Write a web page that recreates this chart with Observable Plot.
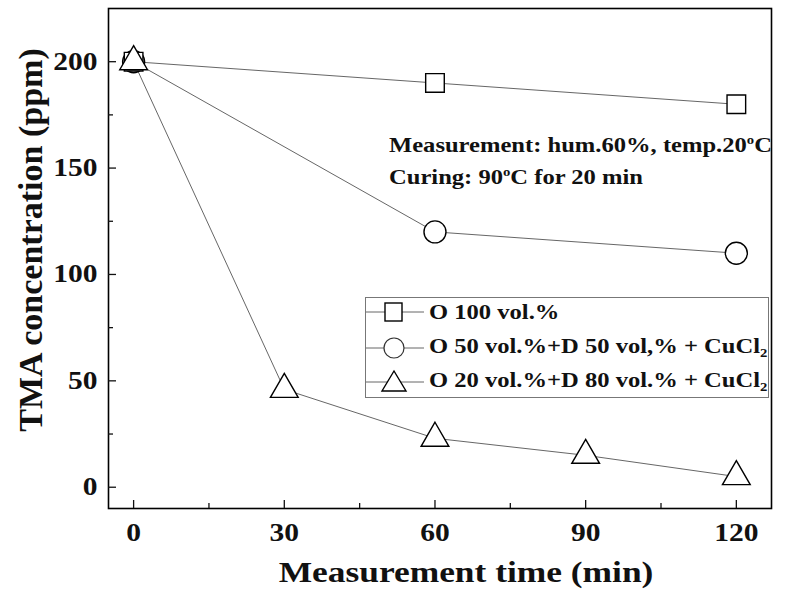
<!DOCTYPE html>
<html>
<head>
<meta charset="utf-8">
<script src="https://cdn.jsdelivr.net/npm/d3@7"></script>
<script src="https://cdn.jsdelivr.net/npm/@observablehq/plot@0.6"></script>
<style>
  html, body { margin: 0; padding: 0; background: #fff; }
  #wrap { position: relative; width: 789px; height: 596px; font-family: "Liberation Serif", "Times New Roman", serif; font-weight: bold; color: #111; }
  #wrap svg { display: block; }
  .note { position: absolute; font-size: 21px; line-height: 1; white-space: nowrap; transform: scaleX(1.17); transform-origin: 0 0; }
  .ylab { position: absolute; left: 31px; top: 240px; font-size: 34px; line-height: 1; white-space: nowrap; transform: translate(-50%, -50%) rotate(-90deg); }
  .legend { position: absolute; left: 365px; top: 297px; width: 404px; height: 101px; border: 1px solid #777; box-sizing: border-box; background: #fff; }
  .row { position: absolute; left: 0; height: 30px; display: flex; align-items: center; white-space: nowrap; }
  .row span { display: inline-block; font-size: 21px; transform: scaleX(1.17); transform-origin: 0 50%; }
  sub { font-size: 0.6em; vertical-align: -0.35em; }
  sup { font-size: 0.6em; vertical-align: 0.6em; line-height: 0; }
</style>
</head>
<body>
<div id="wrap"></div>
<script>
// ---- data ----
const seriesNames = ["O 100 vol.%", "O 50 vol.%+D 50 vol,% + CuCl2", "O 20 vol.%+D 80 vol.% + CuCl2"];
const o100Time = [0, 60, 120];
const o100Conc = [200, 190, 180];
const o50Time = [0, 60, 120];
const o50Conc = [200, 120, 110];
const o20Time = [0, 30, 60, 90, 120];
const o20Conc = [200, 46, 23, 15, 5];
const xTicks = [0, 30, 60, 90, 120];
const xMinor = [15, 45, 75, 105];
const yTicks = [0, 50, 100, 150, 200];
const yMinor = [25, 75, 125, 175];
const xLabel = "Measurement time (min)";
const yLabel = "TMA concentration (ppm)";
const noteLines = ["Measurement: hum.60%, temp.20<sup>o</sup>C", "Curing: 90<sup>o</sup>C for 20 min"];

const toRows = (t, c) => t.map((x, i) => ({time: x, conc: c[i]}));
const s100 = toRows(o100Time, o100Conc);
const s50 = toRows(o50Time, o50Conc);
const s20 = toRows(o20Time, o20Conc);

const lineStyle = {x: "time", y: "conc", stroke: "#555", strokeWidth: 0.9};
const dotStyle = {x: "time", y: "conc", fill: "white", stroke: "black", strokeWidth: 1.4};

const chart = Plot.plot({
  width: 789,
  height: 596,
  marginLeft: 108,
  marginRight: 18,
  marginTop: 8,
  marginBottom: 88,
  style: {fontFamily: "'Liberation Serif', 'Times New Roman', serif", fontWeight: "bold", background: "white", color: "#111"},
  x: {domain: [-5, 127]},
  y: {domain: [-10, 225]},
  marks: [
    Plot.frame({stroke: "black", strokeWidth: 1.6}),
    // inward ticks
    Plot.axisX(xTicks, {tickSize: -8, text: null, label: null, strokeWidth: 1.3}),
    Plot.axisX(xMinor, {tickSize: -5, text: null, label: null, strokeWidth: 1.3}),
    Plot.axisY(yTicks, {tickSize: -8, text: null, label: null, strokeWidth: 1.3}),
    Plot.axisY(yMinor, {tickSize: -5, text: null, label: null, strokeWidth: 1.3}),
    // tick labels
    Plot.axisX(xTicks, {tickSize: 0, tickPadding: 15, fontSize: 25, label: null}),
    Plot.axisY(yTicks, {tickSize: 0, tickPadding: 11, fontSize: 25, label: null}),
    // x axis title
    Plot.axisX({ticks: [], tickSize: 0, label: xLabel, labelAnchor: "center", labelArrow: "none", labelOffset: 73, fontSize: 30}),
    // series
    Plot.line(s100, lineStyle),
    Plot.line(s50, lineStyle),
    Plot.line(s20, lineStyle),
    Plot.dot(s50, {...dotStyle, symbol: "circle", r: 11}),
    Plot.dot(s100, {...dotStyle, symbol: "square", r: 10.5}),
    Plot.dot(s20, {...dotStyle, symbol: "triangle", r: 10.3})
  ]
});

// horizontal stretch of axis texts (the reference typeface is wide)
chart.querySelectorAll('g[aria-label$="tick label"] text, g[aria-label="x-axis label"] text').forEach(t => {
  const x = +t.getAttribute("x") || 0, y = +t.getAttribute("y") || 0;
  const tr = t.getAttribute("transform") || "";
  t.setAttribute("transform", `${tr} translate(${x},${y}) scale(1.18,1) translate(${-x},${-y})`);
});
// the reference x title sits a little right of the frame centre
chart.querySelectorAll('g[aria-label="x-axis label"] text').forEach(t => {
  const tr = t.getAttribute("transform") || "";
  t.setAttribute("transform", `translate(26,0) ${tr}`);
});

const wrap = document.getElementById("wrap");
wrap.appendChild(chart);

// y axis title
const ylab = document.createElement("div");
ylab.className = "ylab";
ylab.textContent = yLabel;
wrap.appendChild(ylab);

// annotation
const noteTops = [135, 167];
noteLines.forEach((txt, i) => {
  const n = document.createElement("div");
  n.className = "note";
  n.style.left = "389px";
  n.style.top = noteTops[i] + "px";
  n.innerHTML = txt;
  wrap.appendChild(n);
});

// legend
const legend = document.createElement("div");
legend.className = "legend";
const symbols = [
  '<rect x="19" y="6" width="17" height="18" fill="white" stroke="black" stroke-width="1.4"/>',
  '<circle cx="28" cy="15" r="10" fill="white" stroke="#333" stroke-width="1.2"/>',
  '<polygon points="28,4 40,24 16,24" fill="white" stroke="black" stroke-width="1.4"/>'
];
const labelsHtml = seriesNames.map(s => s.replace("CuCl2", "CuCl<sub>2</sub>"));
const tops = [-1, 35, 69];
labelsHtml.forEach((lab, i) => {
  const row = document.createElement("div");
  row.className = "row";
  row.style.top = tops[i] + "px";
  row.innerHTML = `<svg width="63" height="30"><line x1="0" x2="58" y1="15" y2="15" stroke="#555" stroke-width="0.9"/>${symbols[i]}</svg><span>${lab}</span>`;
  legend.appendChild(row);
});
wrap.appendChild(legend);
</script>
</body>
</html>
